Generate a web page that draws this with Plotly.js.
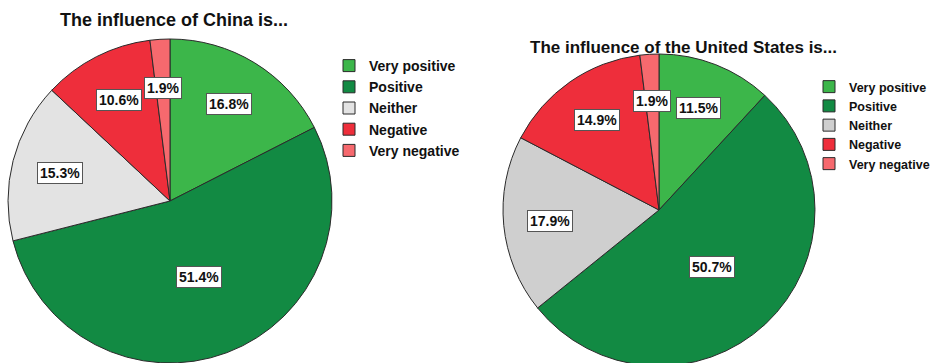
<!DOCTYPE html>
<html>
<head>
<meta charset="utf-8">
<script src="https://cdn.plot.ly/plotly-3.0.1.min.js"></script>
<style>
  html, body { margin: 0; padding: 0; background: #fff; overflow: hidden; }
  .layer { position: absolute; left: 0; top: 0; width: 935px; height: 372px; }
</style>
</head>
<body>
<div id="china" class="layer"></div>
<div id="us" class="layer"></div>
<script>
// Survey answers: perceived influence of two countries
const categories = ['Very positive', 'Positive', 'Neither', 'Negative', 'Very negative'];
const chinaValues = [16.8, 51.4, 15.3, 10.6, 1.9];
const usValues = [11.5, 50.7, 17.9, 14.9, 1.9];
const chinaTitle = 'The influence of China is...';
const usTitle = 'The influence of the United States is...';

const W = 935, H = 372;
const FONT = 'Liberation Sans, Arial, sans-serif';

const chinaColors = ['#3cb64a', '#128a43', '#e3e3e3', '#ee2e3b', '#f6696e'];
const usColors = ['#3cb64a', '#128a43', '#cfcfcf', '#ee2e3b', '#f6696e'];

// Placement in pixels for each panel
const chinaPanel = {
  pie: { cx: 170, cy: 201, r: 162 },
  title: { x: 174, y: 20, size: 18 },
  legend: { x: 329, y: 50, size: 14 }
};
const usPanel = {
  pie: { cx: 659, cy: 210, r: 156 },
  title: { x: 683, y: 47, size: 17 },
  legend: { x: 809, y: 72, size: 12.5 }
};

function domainOf(g) {
  return {
    x: [(g.cx - g.r) / W, (g.cx + g.r) / W],
    y: [(H - (g.cy + g.r)) / H, (H - (g.cy - g.r)) / H]
  };
}

// Boxed percentage labels placed along each slice's mid-angle
function sliceLabels(values, geom) {
  const total = values.reduce((a, b) => a + b, 0);
  let start = 0;
  return values.map(v => {
    const share = v / total;
    const mid = (start + share / 2) * 2 * Math.PI;
    start += share;
    const frac = share > 0.4 ? 0.5 : 0.7;
    const px = geom.cx + geom.r * frac * Math.sin(mid);
    const py = geom.cy - geom.r * frac * Math.cos(mid);
    return {
      xref: 'paper', yref: 'paper',
      x: px / W, y: 1 - py / H,
      xanchor: 'center', yanchor: 'middle',
      text: '<b>' + v.toFixed(1) + '%</b>',
      showarrow: false,
      font: { family: FONT, size: 14, color: '#111' },
      bgcolor: '#ffffff',
      bordercolor: '#555555',
      borderwidth: 1,
      borderpad: 2
    };
  });
}

function drawPanel(divId, values, colors, panel, title) {
  const trace = {
    type: 'pie',
    labels: categories,
    values: values,
    sort: false,
    direction: 'clockwise',
    rotation: 0,
    domain: domainOf(panel.pie),
    marker: { colors: colors, line: { color: '#2b2b2b', width: 1 } },
    textinfo: 'none',
    hoverinfo: 'label+value'
  };
  const titleAnn = {
    xref: 'paper', yref: 'paper',
    x: panel.title.x / W, y: 1 - panel.title.y / H,
    xanchor: 'center', yanchor: 'middle', showarrow: false,
    text: '<b>' + title + '</b>',
    font: { family: FONT, size: panel.title.size, color: '#111' }
  };
  const layout = {
    width: W, height: H,
    margin: { l: 0, r: 0, t: 0, b: 0 },
    paper_bgcolor: 'rgba(0,0,0,0)',
    showlegend: true,
    legend: {
      x: panel.legend.x / W, y: 1 - panel.legend.y / H,
      xanchor: 'left', yanchor: 'top',
      font: { family: FONT, size: panel.legend.size, color: '#111', weight: 'bold' },
      bgcolor: 'rgba(0,0,0,0)', traceorder: 'normal'
    },
    annotations: [titleAnn].concat(sliceLabels(values, panel.pie))
  };
  return Plotly.newPlot(divId, [trace], layout, { displayModeBar: false, staticPlot: true });
}

drawPanel('china', chinaValues, chinaColors, chinaPanel, chinaTitle);
drawPanel('us', usValues, usColors, usPanel, usTitle);
</script>
</body>
</html>
